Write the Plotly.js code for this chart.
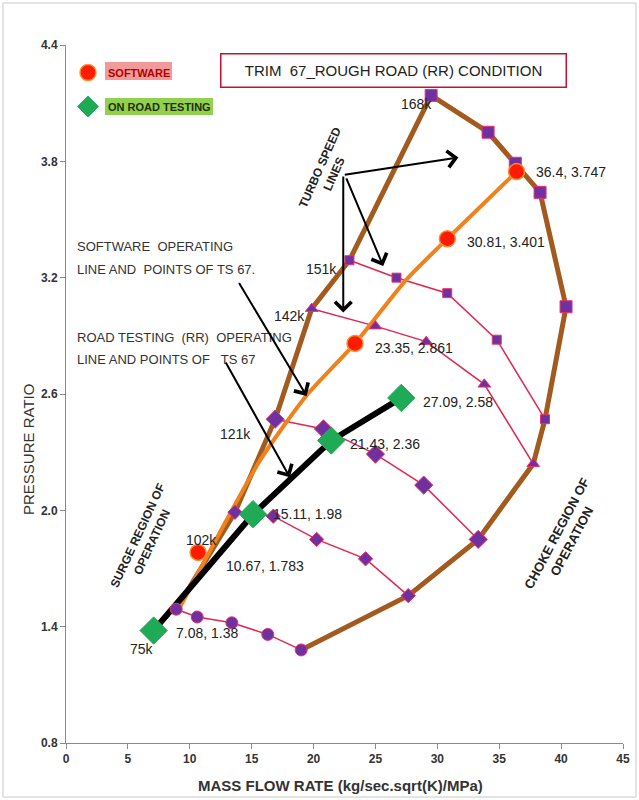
<!DOCTYPE html>
<html><head><meta charset="utf-8">
<script src="https://cdn.plot.ly/plotly-3.0.1.min.js"></script>
<style>html,body{margin:0;padding:0;background:#fff}#chart{width:639px;height:800px}</style>
</head><body><div id="chart"></div>
<script>
// ---- turbo speed lines ----
const speedNames = ['75k', '102k', '121k', '142k', '151k', '168k'];
const sp75X  = [8.9, 10.6, 13.4, 16.3, 19.0];
const sp75Y  = [1.49, 1.45, 1.42, 1.36, 1.28];
const sp102X = [13.65, 16.75, 20.25, 24.2, 27.65];
const sp102Y = [1.99, 1.97, 1.85, 1.75, 1.56];
const sp121X = [16.9, 20.8, 25.0, 28.9, 33.3];
const sp121Y = [2.47, 2.42, 2.29, 2.13, 1.85];
const sp142X = [19.85, 25.0, 29.1, 33.8, 37.75];
const sp142Y = [3.04, 2.95, 2.87, 2.65, 2.24];
const sp151X = [22.9, 26.7, 30.8, 34.8, 38.7];
const sp151Y = [3.29, 3.20, 3.12, 2.88, 2.47];
const sp168X = [29.5, 34.1, 36.3, 38.3, 40.4];
const sp168Y = [4.14, 3.95, 3.79, 3.64, 3.05];

// ---- software operating points and line ----
const swX = [10.67, 23.35, 30.81, 36.4];
const swY = [1.783, 2.861, 3.401, 3.747];
const swLineX = [9.2, 15.7, 19.4, 23.35, 27.5, 30.81, 36.4];
const swLineY = [1.50, 2.26, 2.59, 2.861, 3.19, 3.401, 3.747];

// ---- road testing (RR) operating points ----
const rtX = [7.08, 15.11, 21.43, 27.09];
const rtY = [1.38, 1.98, 2.36, 2.58];

// ---- axis ticks ----
const xTicks = [0, 5, 10, 15, 20, 25, 30, 35, 40, 45];
const yTicks = [0.8, 1.4, 2.0, 2.6, 3.2, 3.8, 4.4];

const speedX = [sp75X, sp102X, sp121X, sp142X, sp151X, sp168X];
const speedY = [sp75Y, sp102Y, sp121Y, sp142Y, sp151Y, sp168Y];
const speedSymbols = ['circle', 'diamond', 'diamond', 'triangle-up', 'square', 'square'];
const speedSizes = [12, 11, 14, 11, 9, 12];

const NARROW = 'Liberation Sans Narrow, Arial Narrow, sans-serif';
const ARIAL = 'Liberation Sans, Arial, sans-serif';
const LINE_RED = '#E0284F';
const BROWN = '#A35A1E';
const ORANGE = '#F0821E';

const traces = [];
// thin speed lines
speedX.forEach((xs, i) => {
  traces.push({x: xs, y: speedY[i], mode: 'lines', type: 'scatter', showlegend: false,
    line: {color: LINE_RED, width: 1.5}, hoverinfo: 'skip'});
});
// brown surge / 168k / choke outline built from the speed line ends
const outlineX = speedX.map(a => a[0]).concat(sp168X.slice(1),
  speedX.slice(0, 5).reverse().map(a => a[a.length - 1]));
const outlineY = speedY.map(a => a[0]).concat(sp168Y.slice(1),
  speedY.slice(0, 5).reverse().map(a => a[a.length - 1]));
traces.push({x: outlineX, y: outlineY, mode: 'lines', type: 'scatter', showlegend: false,
  line: {color: BROWN, width: 5}, hoverinfo: 'skip'});
// software operating line
traces.push({x: swLineX, y: swLineY, mode: 'lines', type: 'scatter', showlegend: false,
  line: {color: ORANGE, width: 4, shape: 'spline', smoothing: 0.6}, hoverinfo: 'skip'});
// road testing line
traces.push({x: rtX, y: rtY, mode: 'lines', type: 'scatter', showlegend: false,
  line: {color: '#000', width: 6}, hoverinfo: 'skip'});
// speed line markers
speedX.forEach((xs, i) => {
  traces.push({x: xs, y: speedY[i], mode: 'markers', type: 'scatter', showlegend: false,
    marker: {symbol: speedSymbols[i], size: speedSizes[i], color: '#7030A0',
      line: {color: '#E8336A', width: 1}}});
});
// software points
traces.push({x: swX, y: swY, mode: 'markers', type: 'scatter', legendgroup: 'a',
  name: '<b><span style="color:#b00000">SOFTWARE</span></b>',
  marker: {symbol: 'circle', size: 16, color: '#FF1A00', line: {color: '#F39030', width: 1.5}}});
// road testing points
traces.push({x: rtX, y: rtY, mode: 'markers', type: 'scatter', legendgroup: 'b',
  name: '<b><span style="color:#203000">ON ROAD TESTING</span></b>',
  marker: {symbol: 'diamond', size: 21, color: '#1FAA55', line: {color: '#1FAA55', width: 1}}});

// pixel helpers for layout placement (plot area 66..623 x 45..743)
const px = v => (v - 66) / 557;
const py = v => (743 - v) / 698;

const ann = [];
// data labels
const swShift = [[26, -14], [18, -5], [18, -3], [17, 0]];
swX.forEach((x, i) => ann.push({x: x, y: swY[i], text: x + ', ' + swY[i], showarrow: false,
  xanchor: 'left', yanchor: 'middle', xshift: swShift[i][0], yshift: swShift[i][1],
  font: {family: NARROW, size: 14, color: '#222'}}));
const rtShift = [[20, -2], [18, 0], [17, -3], [20, -4]];
rtX.forEach((x, i) => ann.push({x: x, y: rtY[i], text: x + ', ' + rtY[i], showarrow: false,
  xanchor: 'left', yanchor: 'middle', xshift: rtShift[i][0], yshift: rtShift[i][1],
  font: {family: NARROW, size: 14, color: '#222'}}));
// speed labels
const spShift = [[-34, -40], [-33, -28], [-40, -15], [-22, -7], [-28, -9], [-15, -9]];
speedNames.forEach((n, i) => ann.push({x: speedX[i][0], y: speedY[i][0], text: n, showarrow: false,
  xanchor: 'center', yanchor: 'middle', xshift: spShift[i][0], yshift: spShift[i][1],
  font: {family: NARROW, size: 14, color: '#222'}}));
// title box
ann.push({xref: 'paper', yref: 'paper', x: px(393), y: py(70), xanchor: 'center', yanchor: 'middle',
  text: 'TRIM\u00a0\u00a067_ROUGH ROAD (RR) CONDITION', showarrow: false,
  width: 342, height: 30, borderpad: 1, bordercolor: '#C8102E', borderwidth: 1.5, bgcolor: '#fff',
  font: {family: NARROW, size: 15, color: '#222'}});
// rotated region texts
ann.push({x: 21.1, y: 3.75, xanchor: 'center', yanchor: 'middle', text: '<b>TURBO SPEED<br>LINES</b>',
  showarrow: false, textangle: -66, font: {family: ARIAL, size: 12, color: '#222'}});
ann.push({x: 6.4, y: 1.85, xanchor: 'center', yanchor: 'middle', text: '<b>SURGE REGION OF<br>OPERATION</b>',
  showarrow: false, textangle: -65, font: {family: ARIAL, size: 12, color: '#222'}});
ann.push({x: 40.3, y: 1.86, xanchor: 'center', yanchor: 'middle', text: '<b>CHOKE REGION OF<br>OPERATION</b>',
  showarrow: false, textangle: -62, font: {family: ARIAL, size: 13, color: '#222'}});
// explanatory texts
const notes = [['SOFTWARE\u00a0\u00a0OPERATING', 3.359], ['LINE AND\u00a0\u00a0POINTS OF TS 67.', 3.241],
  ['ROAD TESTING\u00a0\u00a0(RR)\u00a0\u00a0OPERATING', 2.890], ['LINE AND POINTS OF\u00a0\u00a0\u00a0TS 67', 2.776]];
notes.forEach(n => ann.push({x: 0.73, y: n[1], text: n[0], showarrow: false, xanchor: 'left', yanchor: 'middle',
  font: {family: NARROW, size: 13, color: '#333'}}));
// arrows
const arrows = [[22.4, 3.73, 31.7, 3.82], [22.4, 3.73, 22.4, 3.02], [22.6, 3.72, 25.63, 3.26],
  [13.91, 3.18, 19.44, 2.59], [12.84, 2.77, 18.09, 2.17]];
arrows.forEach(a => ann.push({axref: 'x', ayref: 'y', ax: a[0], ay: a[1], x: a[2], y: a[3],
  text: '', showarrow: true, arrowhead: 4, arrowsize: 1.6, arrowwidth: 2, arrowcolor: '#000'}));
// axis titles
ann.push({xref: 'paper', yref: 'paper', x: px(28), y: py(450), xanchor: 'center', yanchor: 'middle',
  text: 'PRESSURE RATIO', showarrow: false, textangle: -90, font: {family: ARIAL, size: 15, color: '#333'}});
ann.push({xref: 'paper', yref: 'paper', x: px(340), y: py(785), xanchor: 'center', yanchor: 'middle',
  text: '<b>MASS FLOW RATE (kg/sec.sqrt(K)/MPa)</b>',
  showarrow: false, font: {family: NARROW, size: 15, color: '#333'}});

const shapes = [
  {type: 'rect', xref: 'paper', yref: 'paper', x0: px(105), x1: px(172), y0: py(80), y1: py(62),
    fillcolor: '#F29A9A', line: {width: 0}, layer: 'above'},
  {type: 'rect', xref: 'paper', yref: 'paper', x0: px(105), x1: px(213), y0: py(115), y1: py(98),
    fillcolor: '#92D050', line: {width: 0}, layer: 'above'},
  {type: 'rect', xref: 'paper', yref: 'paper', x0: px(3), x1: px(636), y0: py(797), y1: py(3),
    fillcolor: 'rgba(0,0,0,0)', line: {width: 1, color: '#c8c8c8'}, layer: 'below'}
];

const layout = {
  width: 639, height: 800,
  margin: {l: 66, r: 16, t: 45, b: 57},
  paper_bgcolor: '#fff', plot_bgcolor: '#fff',
  showlegend: true,
  legend: {x: px(68), y: py(58), xanchor: 'left', yanchor: 'top', bgcolor: 'rgba(0,0,0,0)',
    traceorder: 'grouped', tracegroupgap: 15,
    font: {family: NARROW, size: 11, color: '#222'}},
  xaxis: {range: [0, 45], tickvals: xTicks, ticktext: xTicks.map(String), showgrid: false, zeroline: false,
    showline: true, linecolor: '#8a8a8a', linewidth: 1, ticks: 'outside', ticklen: 5, tickcolor: '#8a8a8a',
    tickfont: {family: NARROW, size: 12, color: '#333', weight: 'bold'}},
  yaxis: {range: [0.8, 4.4], tickvals: yTicks, ticktext: yTicks.map(v => v.toFixed(1)), showgrid: false, zeroline: false,
    showline: true, linecolor: '#8a8a8a', linewidth: 1, ticks: 'outside', ticklen: 5, tickcolor: '#8a8a8a',
    tickfont: {family: NARROW, size: 12, color: '#333', weight: 'bold'}},
  annotations: ann,
  shapes: shapes
};

Plotly.newPlot('chart', traces, layout, {displayModeBar: false, staticPlot: true});
</script></body></html>
